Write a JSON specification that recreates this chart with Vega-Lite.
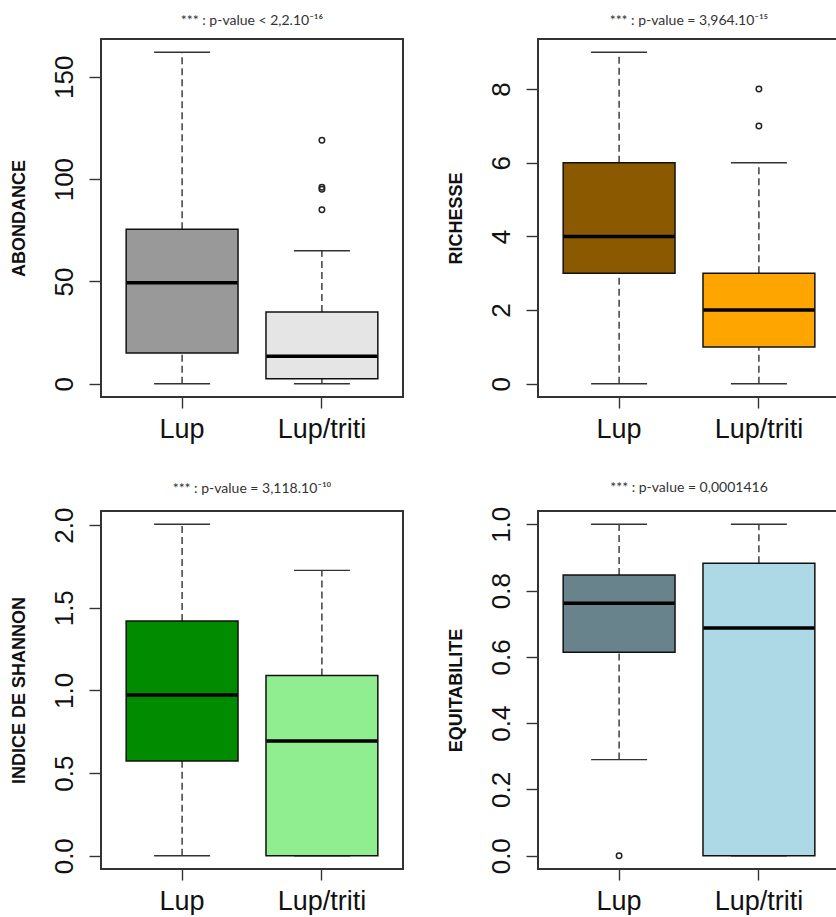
{
  "$schema": "https://vega.github.io/schema/vega-lite/v6.json",
  "background": "white",
  "padding": {"left": 8, "top": 13, "right": 0, "bottom": 0},
  "autosize": {"type": "pad"},
  "config": {
    "view": {"stroke": "#333333", "strokeWidth": 2},
    "axis": {"grid": false, "domain": false, "labelFont": "Liberation Sans", "labelColor": "#111111", "tickColor": "#333333", "tickWidth": 1.4, "labelOverlap": false, "labelFlush": false},
    "axisY": {"tickSize": 12, "labelAngle": -90, "labelAlign": "center", "labelBaseline": "alphabetic", "labelPadding": 17, "labelFontSize": 26, "titleFont": "Liberation Sans", "titleFontWeight": "bold", "titleFontSize": 18, "titleColor": "#111111", "titlePadding": 23},
    "axisX": {"tickSize": 11, "labelAngle": 0, "labelBaseline": "top", "labelPadding": 8, "labelFontSize": 27, "title": null},
    "title": {"font": "Lato", "fontSize": 14, "fontWeight": "normal", "color": "#333333", "baseline": "alphabetic", "offset": 11, "anchor": "middle"}
  },
  "datasets": {
    "abond": [
      {"group": "Lup", "min": 0, "q1": 15, "median": 49.4, "q3": 75.5, "max": 162},
      {"group": "Lup/triti", "min": 0, "q1": 2.4, "median": 13.4, "q3": 35, "max": 65}
    ],
    "abond_out": [
      {"group": "Lup/triti", "value": 85},
      {"group": "Lup/triti", "value": 95},
      {"group": "Lup/triti", "value": 96},
      {"group": "Lup/triti", "value": 119}
    ],
    "rich": [
      {"group": "Lup", "min": 0, "q1": 3, "median": 4, "q3": 6, "max": 9},
      {"group": "Lup/triti", "min": 0, "q1": 1, "median": 2, "q3": 3, "max": 6}
    ],
    "rich_out": [
      {"group": "Lup/triti", "value": 7},
      {"group": "Lup/triti", "value": 8}
    ],
    "shan": [
      {"group": "Lup", "min": 0, "q1": 0.573, "median": 0.972, "q3": 1.42, "max": 2.005},
      {"group": "Lup/triti", "min": 0, "q1": 0, "median": 0.694, "q3": 1.09, "max": 1.726}
    ],
    "equi": [
      {"group": "Lup", "min": 0.29, "q1": 0.614, "median": 0.762, "q3": 0.847, "max": 1.0},
      {"group": "Lup/triti", "min": 0, "q1": 0, "median": 0.687, "q3": 0.882, "max": 1.0}
    ],
    "equi_out": [
      {"group": "Lup", "value": 0}
    ]
  },
  "columns": 2,
  "spacing": {"row": 114, "column": 135},
  "bounds": "flush",
  "resolve": {"scale": {"x": "independent", "y": "independent", "fill": "independent"}},
  "concat": [
    {
      "width": 302, "height": 358,
      "title": {"text": "*** : p-value < 2,2.10⁻¹⁶"},
      "encoding": {
        "x": {"field": "group", "type": "nominal", "scale": {"domain": ["Lup", "Lup/triti"], "paddingInner": 0, "paddingOuter": 0.08}, "axis": {"title": null}}
      },
      "layer": [
        {"data": {"name": "abond"}, "mark": {"type": "rule", "strokeDash": [7, 4], "color": "#222222", "strokeWidth": 1.3},
         "encoding": {"y": {"field": "q3", "type": "quantitative", "scale": {"domain": [-6.48, 168.48], "nice": false, "zero": false}, "axis": {"title": "ABONDANCE", "values": [0, 50, 100, 150]}}, "y2": {"field": "max"}}},
        {"data": {"name": "abond"}, "mark": {"type": "rule", "strokeDash": [7, 4], "color": "#222222", "strokeWidth": 1.3},
         "encoding": {"y": {"field": "min", "type": "quantitative"}, "y2": {"field": "q1"}}},
        {"data": {"name": "abond"}, "mark": {"type": "tick", "size": 56, "thickness": 1.4, "color": "#333333", "opacity": 1},
         "encoding": {"y": {"field": "max", "type": "quantitative"}}},
        {"data": {"name": "abond"}, "mark": {"type": "tick", "size": 56, "thickness": 1.4, "color": "#333333", "opacity": 1},
         "encoding": {"y": {"field": "min", "type": "quantitative"}}},
        {"data": {"name": "abond"}, "mark": {"type": "bar", "width": {"band": 0.8}, "stroke": "#111111", "strokeWidth": 1.5, "fillOpacity": 1, "opacity": 1},
         "encoding": {"y": {"field": "q1", "type": "quantitative"}, "y2": {"field": "q3"}, "fill": {"field": "group", "type": "nominal", "scale": {"domain": ["Lup", "Lup/triti"], "range": ["#999999", "#E5E5E5"]}, "legend": null}}},
        {"data": {"name": "abond"}, "mark": {"type": "tick", "size": 111, "thickness": 3.5, "color": "#000000", "opacity": 1},
         "encoding": {"y": {"field": "median", "type": "quantitative"}}},
        {"data": {"name": "abond_out"}, "mark": {"type": "point", "shape": "circle", "filled": false, "size": 30, "strokeWidth": 1.5, "color": "#222222", "opacity": 1},
         "encoding": {"y": {"field": "value", "type": "quantitative"}}}
      ]
    },
    {
      "width": 302, "height": 358,
      "title": {"text": "*** : p-value = 3,964.10⁻¹⁵"},
      "encoding": {
        "x": {"field": "group", "type": "nominal", "scale": {"domain": ["Lup", "Lup/triti"], "paddingInner": 0, "paddingOuter": 0.08}, "axis": {"title": null}}
      },
      "layer": [
        {"data": {"name": "rich"}, "mark": {"type": "rule", "strokeDash": [7, 4], "color": "#222222", "strokeWidth": 1.3},
         "encoding": {"y": {"field": "q3", "type": "quantitative", "scale": {"domain": [-0.36, 9.36], "nice": false, "zero": false}, "axis": {"title": "RICHESSE", "values": [0, 2, 4, 6, 8]}}, "y2": {"field": "max"}}},
        {"data": {"name": "rich"}, "mark": {"type": "rule", "strokeDash": [7, 4], "color": "#222222", "strokeWidth": 1.3},
         "encoding": {"y": {"field": "min", "type": "quantitative"}, "y2": {"field": "q1"}}},
        {"data": {"name": "rich"}, "mark": {"type": "tick", "size": 56, "thickness": 1.4, "color": "#333333", "opacity": 1},
         "encoding": {"y": {"field": "max", "type": "quantitative"}}},
        {"data": {"name": "rich"}, "mark": {"type": "tick", "size": 56, "thickness": 1.4, "color": "#333333", "opacity": 1},
         "encoding": {"y": {"field": "min", "type": "quantitative"}}},
        {"data": {"name": "rich"}, "mark": {"type": "bar", "width": {"band": 0.8}, "stroke": "#111111", "strokeWidth": 1.5, "fillOpacity": 1, "opacity": 1},
         "encoding": {"y": {"field": "q1", "type": "quantitative"}, "y2": {"field": "q3"}, "fill": {"field": "group", "type": "nominal", "scale": {"domain": ["Lup", "Lup/triti"], "range": ["#8B5A00", "#FFA500"]}, "legend": null}}},
        {"data": {"name": "rich"}, "mark": {"type": "tick", "size": 111, "thickness": 3.5, "color": "#000000", "opacity": 1},
         "encoding": {"y": {"field": "median", "type": "quantitative"}}},
        {"data": {"name": "rich_out"}, "mark": {"type": "point", "shape": "circle", "filled": false, "size": 30, "strokeWidth": 1.5, "color": "#222222", "opacity": 1},
         "encoding": {"y": {"field": "value", "type": "quantitative"}}}
      ]
    },
    {
      "width": 302, "height": 358,
      "title": {"text": "*** : p-value = 3,118.10⁻¹⁰"},
      "encoding": {
        "x": {"field": "group", "type": "nominal", "scale": {"domain": ["Lup", "Lup/triti"], "paddingInner": 0, "paddingOuter": 0.08}, "axis": {"title": null}}
      },
      "layer": [
        {"data": {"name": "shan"}, "mark": {"type": "rule", "strokeDash": [7, 4], "color": "#222222", "strokeWidth": 1.3},
         "encoding": {"y": {"field": "q3", "type": "quantitative", "scale": {"domain": [-0.0802, 2.0852], "nice": false, "zero": false}, "axis": {"title": "INDICE DE SHANNON", "values": [0, 0.5, 1, 1.5, 2], "format": ".1f"}}, "y2": {"field": "max"}}},
        {"data": {"name": "shan"}, "mark": {"type": "rule", "strokeDash": [7, 4], "color": "#222222", "strokeWidth": 1.3},
         "encoding": {"y": {"field": "min", "type": "quantitative"}, "y2": {"field": "q1"}}},
        {"data": {"name": "shan"}, "mark": {"type": "tick", "size": 56, "thickness": 1.4, "color": "#333333", "opacity": 1},
         "encoding": {"y": {"field": "max", "type": "quantitative"}}},
        {"data": {"name": "shan"}, "mark": {"type": "tick", "size": 56, "thickness": 1.4, "color": "#333333", "opacity": 1},
         "encoding": {"y": {"field": "min", "type": "quantitative"}}},
        {"data": {"name": "shan"}, "mark": {"type": "bar", "width": {"band": 0.8}, "stroke": "#111111", "strokeWidth": 1.5, "fillOpacity": 1, "opacity": 1},
         "encoding": {"y": {"field": "q1", "type": "quantitative"}, "y2": {"field": "q3"}, "fill": {"field": "group", "type": "nominal", "scale": {"domain": ["Lup", "Lup/triti"], "range": ["#008B00", "#90EE90"]}, "legend": null}}},
        {"data": {"name": "shan"}, "mark": {"type": "tick", "size": 111, "thickness": 3.5, "color": "#000000", "opacity": 1},
         "encoding": {"y": {"field": "median", "type": "quantitative"}}}
      ]
    },
    {
      "width": 302, "height": 358,
      "title": {"text": "*** : p-value =  0,0001416"},
      "encoding": {
        "x": {"field": "group", "type": "nominal", "scale": {"domain": ["Lup", "Lup/triti"], "paddingInner": 0, "paddingOuter": 0.08}, "axis": {"title": null}}
      },
      "layer": [
        {"data": {"name": "equi"}, "mark": {"type": "rule", "strokeDash": [7, 4], "color": "#222222", "strokeWidth": 1.3},
         "encoding": {"y": {"field": "q3", "type": "quantitative", "scale": {"domain": [-0.04, 1.04], "nice": false, "zero": false}, "axis": {"title": "EQUITABILITE", "values": [0, 0.2, 0.4, 0.6, 0.8, 1], "format": ".1f"}}, "y2": {"field": "max"}}},
        {"data": {"name": "equi"}, "mark": {"type": "rule", "strokeDash": [7, 4], "color": "#222222", "strokeWidth": 1.3},
         "encoding": {"y": {"field": "min", "type": "quantitative"}, "y2": {"field": "q1"}}},
        {"data": {"name": "equi"}, "mark": {"type": "tick", "size": 56, "thickness": 1.4, "color": "#333333", "opacity": 1},
         "encoding": {"y": {"field": "max", "type": "quantitative"}}},
        {"data": {"name": "equi"}, "mark": {"type": "tick", "size": 56, "thickness": 1.4, "color": "#333333", "opacity": 1},
         "encoding": {"y": {"field": "min", "type": "quantitative"}}},
        {"data": {"name": "equi"}, "mark": {"type": "bar", "width": {"band": 0.8}, "stroke": "#111111", "strokeWidth": 1.5, "fillOpacity": 1, "opacity": 1},
         "encoding": {"y": {"field": "q1", "type": "quantitative"}, "y2": {"field": "q3"}, "fill": {"field": "group", "type": "nominal", "scale": {"domain": ["Lup", "Lup/triti"], "range": ["#68838B", "#ADD8E6"]}, "legend": null}}},
        {"data": {"name": "equi"}, "mark": {"type": "tick", "size": 111, "thickness": 3.5, "color": "#000000", "opacity": 1},
         "encoding": {"y": {"field": "median", "type": "quantitative"}}},
        {"data": {"name": "equi_out"}, "mark": {"type": "point", "shape": "circle", "filled": false, "size": 30, "strokeWidth": 1.5, "color": "#222222", "opacity": 1},
         "encoding": {"y": {"field": "value", "type": "quantitative"}}}
      ]
    }
  ]
}
